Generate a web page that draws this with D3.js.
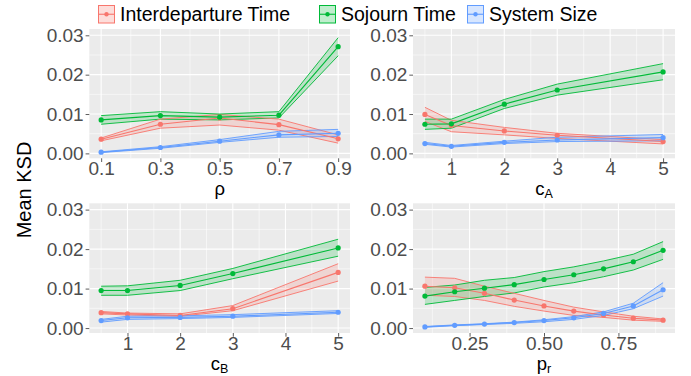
<!DOCTYPE html>
<html>
<head>
<meta charset="utf-8">
<script src="https://cdn.jsdelivr.net/npm/d3@7"></script>
<style>
    body { margin: 0; background: #fff; }
    text { font-family: "Liberation Sans", Arial, sans-serif; }
</style>
</head>
<body>
<div id="chart"></div>
<script>

// series names + colours (ggplot default hues)
var seriesNames = ["Interdeparture Time", "Sojourn Time", "System Size"];
var seriesColors = ["#F8766D", "#00BA38", "#619CFF"];

// each point is [mean, lower, upper]
var rhoValues = [0.1, 0.3, 0.5, 0.7, 0.9];
var rhoInterdeparture = [[0.0036,0.0032,0.0039],[0.0074,0.0064,0.0087],[0.0090,0.0072,0.0099],[0.0073,0.0059,0.0087],[0.0037,0.0026,0.0047]];
var rhoSojourn = [[0.0085,0.0074,0.0096],[0.0096,0.0087,0.0106],[0.0092,0.0085,0.0100],[0.0097,0.0090,0.0106],[0.0271,0.0248,0.0294]];
var rhoSize = [[0.0003,0.0002,0.0004],[0.0015,0.0013,0.0017],[0.0031,0.0028,0.0035],[0.0047,0.0041,0.0056],[0.0051,0.0043,0.0061]];

var cAValues = [0.5, 1, 2, 3, 5];
var cAInterdeparture = [[0.0099,0.0081,0.0117],[0.0071,0.0055,0.0084],[0.0057,0.0047,0.0066],[0.0046,0.0038,0.0051],[0.0030,0.0024,0.0035]];
var cASojourn = [[0.0074,0.0061,0.0087],[0.0075,0.0064,0.0087],[0.0125,0.0114,0.0137],[0.0161,0.0148,0.0176],[0.0207,0.0187,0.0228]];
var cASize = [[0.0025,0.0023,0.0028],[0.0018,0.0016,0.0020],[0.0028,0.0025,0.0031],[0.0034,0.0030,0.0041],[0.0040,0.0032,0.0048]];

var cBValues = [0.5, 1, 2, 3, 5];
var cBInterdeparture = [[0.0039,0.0036,0.0042],[0.0036,0.0033,0.0038],[0.0032,0.0030,0.0036],[0.0049,0.0044,0.0057],[0.0141,0.0119,0.0163]];
var cBSojourn = [[0.0095,0.0083,0.0106],[0.0095,0.0083,0.0107],[0.0108,0.0095,0.0121],[0.0138,0.0125,0.0151],[0.0203,0.0182,0.0225]];
var cBSize = [[0.0019,0.0015,0.0022],[0.0026,0.0022,0.0030],[0.0027,0.0024,0.0031],[0.0030,0.0027,0.0034],[0.0040,0.0037,0.0044]];

var prValues = [0.1, 0.2, 0.3, 0.4, 0.5, 0.6, 0.7, 0.8, 0.9];
var prInterdeparture = [[0.0106,0.0083,0.0129],[0.0102,0.0080,0.0126],[0.0088,0.0070,0.0106],[0.0071,0.0055,0.0088],[0.0056,0.0043,0.0070],[0.0043,0.0032,0.0053],[0.0033,0.0027,0.0041],[0.0025,0.0020,0.0030],[0.0020,0.0017,0.0023]];
var prSojourn = [[0.0081,0.0060,0.0103],[0.0092,0.0070,0.0109],[0.0101,0.0080,0.0121],[0.0110,0.0089,0.0128],[0.0123,0.0104,0.0143],[0.0135,0.0115,0.0155],[0.0150,0.0130,0.0170],[0.0168,0.0147,0.0187],[0.0197,0.0174,0.0219]];
var prSize = [[0.0003,0.0002,0.0004],[0.0007,0.0006,0.0008],[0.0010,0.0009,0.0011],[0.0014,0.0012,0.0015],[0.0019,0.0016,0.0021],[0.0026,0.0022,0.0029],[0.0037,0.0032,0.0041],[0.0056,0.0049,0.0063],[0.0097,0.0081,0.0115]];

// tick labels
var yTicks = [0, 0.01, 0.02, 0.03];
var yMinor = [0.005, 0.015, 0.025];
var rhoTicks = [0.1, 0.3, 0.5, 0.7, 0.9];
var cTicks = [1, 2, 3, 4, 5];
var prTicks = [0.25, 0.50, 0.75];


var svg = d3.select("#chart").append("svg")
    .attr("width", 691)
    .attr("height", 376);

var yDomain = [-0.00125, 0.0316];


Panel = function(_box, _xs, _series, _ticks, _fmt, _title, _sub){
    this.box = _box;
    this.xs = _xs;
    this.series = _series;
    this.ticks = _ticks;
    this.fmt = _fmt;
    this.title = _title;
    this.sub = _sub;

    this.initVis();
}

Panel.prototype.initVis = function(){
    var vis = this;
    var b = vis.box;

    vis.g = svg.append("g");

    // ggplot style 5% expansion on x
    var ext = d3.extent(vis.xs);
    var pad = (ext[1] - ext[0]) * 0.05;
    vis.x = d3.scaleLinear()
        .domain([ext[0] - pad, ext[1] + pad])
        .range([b.left, b.right]);

    vis.y = d3.scaleLinear()
        .domain(yDomain)
        .range([b.bottom, b.top]);

    vis.g.append("rect")
        .attr("x", b.left).attr("y", b.top)
        .attr("width", b.right - b.left).attr("height", b.bottom - b.top)
        .attr("fill", "#EBEBEB");

    // minor x grid: midpoints between majors
    var step = vis.ticks[1] - vis.ticks[0];
    var xMinor = [];
    for (var i = -1; i < vis.ticks.length; i++) {
        var m = vis.ticks[0] + step * i + step / 2;
        if (m >= vis.x.domain()[0] && m <= vis.x.domain()[1]) xMinor.push(m);
    }

    vis.g.selectAll(".yminor").data(yMinor).enter().append("line")
        .attr("x1", b.left).attr("x2", b.right)
        .attr("y1", function(d){ return vis.y(d); }).attr("y2", function(d){ return vis.y(d); })
        .attr("stroke", "#fff").attr("stroke-width", 0.55);
    vis.g.selectAll(".xminor").data(xMinor).enter().append("line")
        .attr("y1", b.top).attr("y2", b.bottom)
        .attr("x1", function(d){ return vis.x(d); }).attr("x2", function(d){ return vis.x(d); })
        .attr("stroke", "#fff").attr("stroke-width", 0.55);
    vis.g.selectAll(".ymajor").data(yTicks).enter().append("line")
        .attr("x1", b.left).attr("x2", b.right)
        .attr("y1", function(d){ return vis.y(d); }).attr("y2", function(d){ return vis.y(d); })
        .attr("stroke", "#fff").attr("stroke-width", 1.1);
    vis.g.selectAll(".xmajor").data(vis.ticks).enter().append("line")
        .attr("y1", b.top).attr("y2", b.bottom)
        .attr("x1", function(d){ return vis.x(d); }).attr("x2", function(d){ return vis.x(d); })
        .attr("stroke", "#fff").attr("stroke-width", 1.1);

    // axes
    var yAxis = d3.axisLeft(vis.y).tickValues(yTicks).tickFormat(d3.format(".2f"))
        .tickSize(3.7).tickPadding(2);
    var xAxis = d3.axisBottom(vis.x).tickValues(vis.ticks).tickFormat(vis.fmt)
        .tickSize(3.7).tickPadding(-0.7);

    var ya = vis.g.append("g").attr("transform", "translate(" + b.left + ",0)").call(yAxis);
    var xa = vis.g.append("g").attr("transform", "translate(0," + b.bottom + ")").call(xAxis);
    [ya, xa].forEach(function(a){
        a.select(".domain").remove();
        a.selectAll(".tick line").attr("stroke", "#333333").attr("stroke-width", 0.8);
        a.selectAll(".tick text").attr("fill", "#4D4D4D").style("font-size", "19px")
            .style("font-family", "'Liberation Sans', Arial, sans-serif");
    });

    var t = vis.g.append("text")
        .attr("x", (b.left + b.right) / 2)
        .attr("y", b.bottom + 37)
        .attr("text-anchor", "middle")
        .style("font-size", "18.5px")
        .attr("fill", "#000")
        .text(vis.title);
    if (vis.sub) {
        t.append("tspan").attr("dy", 3).style("font-size", "12.5px").text(vis.sub);
    }

    vis.wrangleData();
}

Panel.prototype.wrangleData = function(){
    var vis = this;

    vis.displayData = vis.series.map(function(s, k){
        return s.map(function(v, i){
            return {x: vis.xs[i], mean: v[0], lo: v[1], hi: v[2], k: k};
        });
    });

    vis.updateVis();
}

Panel.prototype.updateVis = function(){
    var vis = this;

    var area = d3.area()
        .x(function(d){ return vis.x(d.x); })
        .y0(function(d){ return vis.y(d.lo); })
        .y1(function(d){ return vis.y(d.hi); });
    var line = function(key){
        return d3.line()
            .x(function(d){ return vis.x(d.x); })
            .y(function(d){ return vis.y(d[key]); });
    };

    // ribbons first, then the lines, then the dots
    vis.g.selectAll(".ribbon").data(vis.displayData).enter().append("path")
        .attr("class", "ribbon")
        .attr("d", area)
        .attr("fill", function(d, i){ return seriesColors[i]; })
        .attr("fill-opacity", 0.2);

    ["lo", "hi"].forEach(function(key){
        vis.g.selectAll(".edge-" + key).data(vis.displayData).enter().append("path")
            .attr("d", line(key))
            .attr("fill", "none")
            .attr("stroke", function(d, i){ return seriesColors[i]; })
            .attr("stroke-width", 0.9);
    });

    vis.g.selectAll(".meanline").data(vis.displayData).enter().append("path")
        .attr("d", line("mean"))
        .attr("fill", "none")
        .attr("stroke", function(d, i){ return seriesColors[i]; })
        .attr("stroke-width", 1.1);

    vis.displayData.forEach(function(s, k){
        vis.g.selectAll(".dot" + k).data(s).enter().append("circle")
            .attr("cx", function(d){ return vis.x(d.x); })
            .attr("cy", function(d){ return vis.y(d.mean); })
            .attr("r", 2.6)
            .attr("fill", seriesColors[k]);
    });
}


var fmt1 = d3.format(".1f");
var fmtInt = d3.format("d");
var fmt2 = d3.format(".2f");

new Panel({left: 89.3, right: 350, top: 29, bottom: 158.3}, rhoValues,
    [rhoInterdeparture, rhoSojourn, rhoSize], rhoTicks, fmt1, "\u03c1", null);
new Panel({left: 413, right: 675, top: 29, bottom: 158.3}, cAValues,
    [cAInterdeparture, cASojourn, cASize], cTicks, fmtInt, "c", "A");
new Panel({left: 89.3, right: 350, top: 203.3, bottom: 333}, cBValues,
    [cBInterdeparture, cBSojourn, cBSize], cTicks, fmtInt, "c", "B");
new Panel({left: 413, right: 675, top: 203.3, bottom: 333}, prValues,
    [prInterdeparture, prSojourn, prSize], prTicks, fmt2, "p", "r");

// y title
svg.append("text")
    .attr("transform", "translate(31,190) rotate(-90)")
    .attr("text-anchor", "middle")
    .style("font-size", "20px")
    .text("Mean KSD");

// legend
var keyX = [98, 319, 467];
var legend = svg.append("g").attr("class", "legend");
seriesNames.forEach(function(name, i){
    var g = legend.append("g").attr("transform", "translate(" + keyX[i] + ",5)");
    g.append("rect").attr("x", 0.5).attr("y", 0.5).attr("width", 16).attr("height", 17.5)
        .attr("fill", "#fff");
    g.append("rect").attr("x", 0.5).attr("y", 0.5).attr("width", 16).attr("height", 17.5)
        .attr("fill", seriesColors[i]).attr("fill-opacity", 0.25)
        .attr("stroke", seriesColors[i]).attr("stroke-width", 1);
    g.append("line").attr("x1", 1).attr("x2", 16).attr("y1", 9.25).attr("y2", 9.25)
        .attr("stroke", seriesColors[i]).attr("stroke-width", 1.1);
    g.append("circle").attr("cx", 8.5).attr("cy", 9.25).attr("r", 2.2).attr("fill", seriesColors[i]);
    g.append("text").attr("x", 22).attr("y", 16).style("font-size", "19.5px").text(name);
});

</script>
</body>
</html>
